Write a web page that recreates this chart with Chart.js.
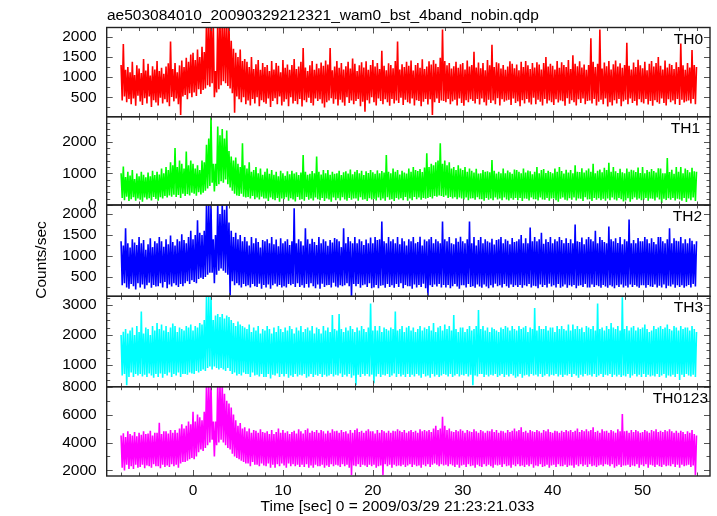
<!DOCTYPE html>
<html><head><meta charset="utf-8">
<script src="https://cdn.jsdelivr.net/npm/chart.js@4/dist/chart.umd.min.js"></script>
<style>html,body{margin:0;padding:0;background:#fff;}canvas{display:block;}</style>
</head><body>
<canvas id="c" width="717" height="516"></canvas>
<script>
const TITLE = "ae503084010_20090329212321_wam0_bst_4band_nobin.qdp";
const X_TITLE = "Time [sec] 0 = 2009/03/29 21:23:21.033";
const Y_TITLE = "Counts/sec";
const BAND_LABELS = ["TH0", "TH1", "TH2", "TH3", "TH0123"];
const BIN_START = -8, BIN_WIDTH = 0.125;   // one row below = 1 s
const X_TICKS = [0, 10, 20, 30, 40, 50];
const Y_TICKS = [
  [500, 1000, 1500, 2000],
  [0, 1000, 2000],
  [500, 1000, 1500, 2000],
  [1000, 2000, 3000],
  [2000, 4000, 6000, 8000]
];

const TH0 = [
1300,420,1820,520,1180,380,1250,460,
1120,330,1380,470,1050,290,1290,540,
1210,400,1100,310,1450,480,1160,350,
1330,520,1040,260,1270,430,1190,370,
1400,300,1150,490,1230,350,1080,450,
1260,380,1340,280,1880,510,1200,400,
1350,470,1120,330,1290,60,1410,520,
1250,560,1480,450,1380,600,1560,500,
1600,620,1420,530,1680,700,1500,580,
1750,680,1620,720,2400,800,2400,760,
2400,850,2400,500,1150,620,2400,700,
2400,800,2400,900,2400,850,2400,780,
2350,720,1900,600,1700,120,1600,520,
1500,450,1680,380,1400,500,1450,330,
1380,420,1250,300,1500,460,1200,350,
1320,500,1420,280,1180,430,1350,380,
1250,340,1300,470,1150,260,1400,410,
1190,480,1350,330,1280,520,1120,300,
1420,390,1230,450,1310,280,1180,500,
1300,350,1450,410,1200,330,1260,460,
1380,270,1720,430,1240,380,1150,490,
1290,360,1400,300,1180,470,1330,410,
1220,450,1360,350,1280,250,1410,380,
1310,420,1720,480,1170,340,1260,450,
1400,300,1230,440,1350,370,1190,290,
1270,500,1380,360,1210,420,1460,330,
1330,410,1150,460,1290,280,1370,390,
1240,140,1390,430,1180,350,1300,500,
1420,380,1260,300,1350,470,1200,410,
1650,330,1280,450,1170,380,1340,290,
1300,460,1220,350,1400,420,1880,360,
1190,490,1320,310,1250,440,1380,380,
1280,350,1410,470,1160,300,1300,430,
1350,410,1230,280,1440,390,1200,460,
1260,320,1390,450,1310,60,1420,380,
1330,470,1250,360,1480,420,2180,410,
1400,380,1290,460,1350,330,1210,400,
1270,440,1380,300,1230,470,1320,360,
1350,290,1190,430,1410,380,1260,450,
1300,410,1630,350,1240,460,1360,320,
1220,470,1350,380,1170,300,1420,440,
1290,360,1800,420,1250,330,1370,480,
1340,300,1210,450,1300,390,1180,420,
1260,440,1390,310,1330,470,1220,360,
1310,400,1170,280,1380,430,1250,350,
1400,460,1290,370,1200,320,1350,490,
1240,330,1370,440,1310,390,1190,300,
1350,460,1500,350,1260,420,1330,380,
1280,310,1190,450,1400,370,1230,420,
1370,400,1300,290,1250,480,1420,340,
1200,430,1540,380,1330,300,1270,450,
1390,360,1240,470,1310,330,1180,410,
1300,420,1960,350,1380,460,1250,300,
1330,390,2180,440,1210,330,1360,470,
1270,270,1400,380,1190,300,1320,430,
1410,350,1260,460,1340,280,1230,400,
1300,440,1850,330,1280,470,1190,360,
1360,410,1250,300,1430,450,1290,380,
1220,350,1380,460,1170,320,1330,410,
1400,290,1260,430,1350,380,1500,340,
1280,470,1190,360,1410,300,1240,450,
1330,380,1300,420,1200,330,1370,460,
1250,310,1830,440,1290,370,1180,400,
1350,420,1240,350,1670,460,1300,330,
1250];

const TH1 = [
1000,220,1210,150,880,260,1050,120,
930,180,1100,240,820,130,990,200,
900,160,1050,100,950,230,870,170,
1020,210,900,140,1080,250,940,190,
1050,130,960,240,1150,200,1000,280,
1200,230,1100,300,1350,260,1250,320,
1800,250,1200,310,1400,220,1300,350,
1150,280,1690,340,1250,300,1400,380,
1300,350,1150,290,1250,400,1100,330,
1400,380,1350,450,1900,520,2100,600,
2790,700,1300,420,1300,600,2480,650,
2200,750,2400,700,2100,800,2350,650,
1700,550,1530,450,1400,350,1500,300,
1300,280,1200,350,1950,260,1250,230,
1150,250,1350,200,1050,280,1100,180,
1200,230,1000,170,1150,260,950,200,
1050,200,1150,120,980,230,1100,180,
950,150,1050,220,900,100,1080,200,
1000,180,920,240,1060,130,970,210,
1080,170,990,110,1030,250,940,160,
1020,180,1580,130,1050,250,950,160,
980,200,1070,140,1000,230,1530,180,
1050,150,960,220,1100,120,1000,200,
1100,170,950,100,1050,230,980,150,
1000,210,1080,140,940,240,1030,170,
1060,130,990,220,1120,160,970,200,
1050,200,1100,130,1000,240,1080,160,
940,180,1060,120,1010,210,1100,170,
1030,190,980,140,1090,230,1000,150,
1070,200,1020,130,1580,240,1050,160,
1000,180,1150,120,1050,220,1100,170,
960,210,1080,150,1020,250,990,130,
1150,200,1050,150,1200,250,1100,180,
1070,230,1130,160,1040,220,1180,190,
1630,220,1200,250,1300,200,1250,280,
1350,260,1400,300,1950,280,1300,250,
1400,300,1250,220,1350,250,1150,200,
1200,240,1100,180,1250,230,1150,200,
1100,170,1200,230,1050,150,1150,200,
1080,210,1020,160,1140,240,990,180,
1000,180,1100,130,1050,220,1060,160,
1030,200,1420,150,1080,230,990,170,
1050,200,1000,150,1150,230,1000,170,
1090,140,1030,210,980,160,1120,220,
1100,150,1050,220,1000,120,1150,200,
1020,190,1090,140,1060,230,970,180,
1050,180,1200,140,1000,230,1100,170,
1130,160,1010,220,1080,130,1040,200,
1000,200,1150,150,1050,100,1200,190,
1070,230,990,160,1110,140,1020,210,
1100,160,1000,230,1250,140,1050,200,
1040,190,1160,120,1020,240,1090,170,
1150,180,1050,120,1300,220,1000,160,
1080,210,1120,150,1030,190,1170,130,
1100,200,1330,150,1050,230,1200,170,
1060,140,1010,220,1140,180,1030,110,
1000,140,1150,210,1050,100,1110,180,
1090,230,1040,160,1180,200,1010,150,
1200,160,1000,220,1100,130,1050,200,
1130,190,1070,140,1020,230,1160,170,
1150,60,1000,190,1000,150,1480,210,
1040,160,1110,220,980,140,1200,190,
1050,170,1200,130,1000,220,1150,90,
1100,200,1030,150,1170,230,1060,120,
1050];

const TH2 = [
1350,300,1250,350,1660,250,1300,220,
1200,330,1400,280,1320,200,1260,350,
1450,250,1300,320,1380,220,1150,300,
1280,360,1420,240,1210,310,1350,270,
1300,280,1450,350,1350,250,1220,380,
1400,230,1280,320,1490,270,1330,350,
1250,300,1400,260,1350,330,1520,280,
1380,350,1300,400,1450,330,1600,420,
1400,380,1500,350,1850,450,1550,480,
1500,450,1600,500,2250,550,2250,600,
2250,600,1400,350,1500,550,2250,650,
2000,700,2250,650,2100,600,2250,550,
1800,60,1600,400,1450,300,1550,350,
1400,300,1500,250,1350,330,1450,280,
1350,300,1250,250,1450,330,1300,280,
1420,260,1330,340,1200,220,1380,310,
1350,250,1400,320,1300,220,1450,300,
1280,340,1390,270,1230,310,1420,250,
1300,280,1350,250,1400,330,1260,300,
1350,330,2140,260,1300,350,1400,260,
1350,300,1250,240,1660,330,1400,250,
1290,350,1410,280,1330,230,1260,320,
1450,220,1300,340,1400,260,1350,300,
1240,310,1380,250,1320,360,1430,270,
1400,250,1350,300,1210,280,1660,300,
1300,350,1450,280,1350,20,1300,330,
1450,280,1300,330,1400,240,1350,300,
1260,320,1390,260,1300,350,1440,230,
1300,250,1450,310,1380,230,1400,290,
1820,300,1350,240,1300,330,1450,260,
1350,300,1400,240,1300,330,1450,260,
1280,350,1420,230,1350,310,1250,280,
1400,280,1350,220,1450,320,1300,250,
1330,310,1460,260,1250,340,1390,230,
1350,20,1400,300,1450,260,1300,320,
1400,270,1350,330,1300,250,1820,310,
1400,250,1350,310,1450,230,1300,280,
1280,330,1420,270,1340,220,1460,300,
1350,300,1300,250,1400,330,1820,260,
1300,280,1450,240,1250,320,1380,270,
1450,240,1300,320,1400,270,1350,230,
1320,300,1410,250,1270,340,1380,280,
1400,300,1450,250,1300,330,1400,280,
1360,240,1280,320,1430,260,1330,300,
1350,260,1400,310,1500,240,1300,300,
1420,280,1300,330,1680,250,1350,290,
1450,280,1350,230,1400,320,1550,260,
1290,310,1400,250,1330,340,1450,270,
1300,300,1400,250,1350,330,1450,240,
1380,270,1300,320,1420,240,1310,300,
1400,270,1300,310,1750,230,1350,290,
1330,300,1440,260,1280,330,1400,250,
1450,250,1400,320,1350,260,1600,300,
1300,280,1450,240,1380,310,1330,270,
1300,240,1700,300,1400,270,1350,230,
1420,300,1310,260,1450,320,1280,250,
1400,290,1350,250,1870,320,1300,260,
1380,310,1300,270,1430,240,1350,300,
1350,300,1450,240,1400,310,1300,270,
1420,260,1330,320,1280,250,1450,290,
1450,250,1350,320,1300,230,1400,290,
1660,270,1300,320,1420,240,1360,300,
1350,260,1450,300,1300,240,1400,280,
1300,310,1420,250,1360,330,1280,270,
1350];

const TH3 = [
2000,650,2110,700,2200,330,2050,600,
2150,750,2250,600,2000,700,2300,650,
2100,700,2780,620,2050,680,2250,600,
2200,720,2000,650,2300,580,2150,700,
2400,600,2200,720,2350,580,2150,700,
2300,650,2100,750,2250,600,2380,700,
2300,650,2100,750,2250,600,2200,700,
2150,700,2300,680,2250,750,2350,720,
2150,700,2300,800,2250,750,2400,800,
2350,850,2500,800,3290,900,3290,950,
3290,850,2500,950,2650,900,2700,850,
2600,900,2700,850,2550,800,2650,900,
2600,800,2500,700,2400,750,2300,650,
2450,700,2350,650,2300,750,2250,700,
2200,700,2350,600,2100,750,2250,650,
2150,680,2300,620,2050,700,2200,600,
2150,600,2300,700,2200,550,2050,680,
2250,650,2100,720,2300,600,2200,700,
2100,620,2250,700,2150,580,2300,650,
2200,600,2050,700,2250,620,2150,680,
2300,650,2100,700,2200,580,2250,620,
2150,700,2300,600,2050,680,2250,640,
2200,700,2050,600,2300,680,2150,620,
2250,650,2100,700,2670,620,2200,680,
2150,650,2700,720,2200,600,2100,680,
2250,620,2150,700,2300,580,2200,650,
2100,330,2250,680,2150,600,2300,700,
2200,640,2100,700,2250,620,3050,680,
2150,390,2300,620,2150,700,2300,600,
2100,680,2250,650,2200,700,2150,600,
2250,650,2200,720,2780,600,2150,700,
2200,620,2300,680,2100,600,2250,700,
2300,600,2150,680,2250,620,2100,700,
2200,650,2300,580,2150,700,2250,620,
2200,650,2300,580,2150,700,2400,620,
2100,680,2250,600,2300,650,2150,700,
2350,680,2200,620,2300,700,2150,600,
2670,650,2200,700,2100,620,2250,680,
2250,650,2100,700,2200,620,2300,680,
2150,330,2200,650,2300,620,2830,700,
2200,700,2300,600,2150,680,2250,620,
2100,680,2250,650,2200,700,2150,600,
2100,650,2250,700,2200,600,2300,680,
2250,620,2150,700,2300,650,2200,580,
2150,620,2300,700,2200,580,2250,650,
2300,680,2100,620,2250,700,2200,650,
2900,680,2150,620,2300,700,2200,600,
2200,650,2300,700,2150,620,2250,680,
2250,650,2100,700,2300,620,2200,680,
2300,600,2200,680,2150,650,2350,700,
2150,600,2350,700,2200,650,2300,580,
2200,680,2250,620,2100,700,2300,650,
2250,680,2200,620,2300,700,2150,600,
3050,650,2200,700,2250,600,2150,680,
2300,650,2200,700,2400,600,2250,680,
2200,620,2300,680,2150,600,3260,650,
2200,620,2300,700,2150,580,2250,650,
2300,700,2150,620,2250,680,2200,600,
2250,700,2350,600,2200,680,2100,620,
2150,650,2300,620,2200,700,2250,600,
2300,650,2200,700,2250,580,2350,650,
2200,620,2150,680,2300,600,2250,700,
2150,500,2300,680,2200,600,2250,700,
2250,650,2150,620,2300,680,2200,600,
2100];

const TH0123 = [
4500,2200,4660,2000,4400,2400,4800,2100,
4600,2300,4500,2100,4750,2400,4450,2200,
4700,2250,4550,2400,4800,2150,4600,2350,
4650,2300,4850,2200,4500,2450,4700,2300,
4700,2300,5420,2150,4600,2400,4800,2250,
4800,2350,4650,2250,4900,2450,4700,2300,
4900,2400,4700,2200,5000,2500,5300,2600,
5000,2600,5200,2700,5500,2800,5300,2900,
6200,2800,5500,3000,6000,3300,5800,3500,
5600,3400,6200,3600,8200,3800,8200,4000,
8200,4200,5500,3000,5500,3800,8200,4000,
8200,4200,8200,4000,7500,3800,7000,3600,
6800,3500,6500,3200,6000,3000,5600,2900,
5200,2800,5400,2700,5000,2600,5100,2500,
4800,2500,5000,2300,4700,2600,4900,2400,
4850,2400,4700,2300,4950,2500,4750,2350,
4700,2300,4800,2500,4600,2200,4900,2400,
4600,2200,4750,2450,5000,2300,4700,2500,
4900,2350,4700,2200,4800,2500,4600,2300,
4750,2450,4850,2300,4650,2400,4950,2250,
4800,2400,4650,2250,4900,2450,5000,2200,
4700,2350,4850,2200,4750,2400,4900,2300,
4700,2300,4900,2400,4800,2200,4650,2350,
4850,2250,4700,2450,4950,2300,4800,2400,
4850,2350,4700,2250,4900,2450,4750,2300,
4800,2400,4650,2200,4900,1670,4700,2350,
4900,2300,5000,2450,4750,2250,4850,2400,
4700,2350,4850,2250,4950,2400,4800,2300,
4800,2400,4650,2200,4900,2300,4700,2350,
4900,1670,4800,2450,4700,2300,4850,2400,
4700,2200,4850,2400,4800,2300,4950,2350,
4850,2300,4750,2400,4900,2250,4700,2350,
4800,2450,4900,2250,4750,2400,4850,2300,
4700,2350,4950,2200,4800,2400,4900,2300,
4800,2450,4900,2250,4750,2400,5000,2500,
5200,2400,4900,2300,5000,2450,5850,2350,
5200,2400,4900,2300,5000,2450,4800,2350,
4750,2250,4900,2400,4800,2200,4950,2350,
4850,2400,4700,2250,4900,2450,4800,2300,
4750,2350,4950,2200,4800,2400,4700,2300,
4900,2250,4800,2450,4700,2300,4850,2400,
4800,2300,4950,2200,4750,2400,4900,2350,
4700,2400,4850,2250,4800,2450,4700,2300,
4900,2350,4750,2200,4850,2400,5000,2300,
4800,2450,4900,2300,5100,2350,4750,2250,
4850,2400,4700,2300,4900,2450,4800,2200,
4750,2350,4900,2300,4800,2450,4700,2250,
4900,2300,4800,2400,4950,2200,4750,2350,
4700,2400,4850,2250,4800,2450,4700,2300,
4850,2300,4750,2400,4900,2250,4800,2350,
4900,2350,4750,2200,4850,2400,5000,2300,
4750,2450,4900,2300,4800,2400,4950,2250,
4800,2450,4900,2300,5100,2350,4750,2250,
4850,2350,4700,2400,4950,2300,4800,2450,
4850,2400,4700,2300,4900,2450,4800,2200,
4700,2300,4950,2400,4800,2250,6040,2350,
4800,2350,4850,2400,4700,2250,4900,2350,
4750,2300,4900,2450,4800,2200,4700,2400,
4750,2300,4900,2450,4800,2200,4700,2400,
4900,2350,4800,2250,4950,2400,4750,2300,
4850,2250,4750,2400,4900,2300,4800,2350,
4950,2300,4800,2450,4700,2250,4850,2400,
4700,2200,4850,2400,4750,2300,4600,2350,
4800,2400,4700,2250,4900,2350,4600,1670,
4500];

const SERIES = [TH0, TH1, TH2, TH3, TH0123];
const Y_MIN = [20, -5, 38, 277, 1600];
const Y_MAX = [2228, 2790, 2215, 3290, 8000];
const Y_MINOR = [250, 200, 250, 250, 1000];
const X_MIN = -9.6, X_MAX = 57.5, X_STEP = 10, X_MINOR = 2;

// styles / layout
const COLORS = ['#ff0000', '#00ff00', '#0000ff', '#00ffff', '#ff00ff'];
const PANEL_WEIGHTS = [89.2, 88.3, 91.3, 90.4, 89.3];
const LABEL_RIGHT = [703, 700, 702, 703, 708];
const FAMILY = "'Liberation Sans', Arial, Helvetica, sans-serif";
const FONT = "15.5px " + FAMILY;
Chart.defaults.font.family = FAMILY;
Chart.defaults.font.size = 15.5;
Chart.defaults.color = '#000';

const TIMES = TH0.map((_, i) => BIN_START + i * BIN_WIDTH);

const datasets = SERIES.map((s, k) => ({
  label: BAND_LABELS[k],
  data: s.map((v, i) => ({x: TIMES[i], y: v})),
  xAxisID: 'x',
  yAxisID: 'y' + k,
  borderColor: COLORS[k],
  borderWidth: 1.6,
  borderJoinStyle: 'bevel',
  pointRadius: 0,
  tension: 0,
  fill: false
}));

const scales = {
  x: {
    type: 'linear', position: 'bottom', min: X_MIN, max: X_MAX,
    afterBuildTicks: sc => { sc.ticks = X_TICKS.map(v => ({value: v})); },
    ticks: {autoSkip: false, maxRotation: 0, padding: 5, callback: v => String(v)},
    grid: {display: false, drawTicks: false},
    border: {display: false},
    afterFit: s => { s.height = 40; }
  }
};
SERIES.forEach((s, k) => {
  scales['y' + k] = {
    type: 'linear', position: 'left', stack: 'panels', stackWeight: PANEL_WEIGHTS[k],
    weight: 10 - k, offset: false,
    min: Y_MIN[k], max: Y_MAX[k],
    afterBuildTicks: sc => { sc.ticks = Y_TICKS[k].map(v => ({value: v})); },
    ticks: {autoSkip: false, padding: 10, callback: v => String(v)},
    grid: {display: false, drawTicks: false},
    border: {display: false},
    afterFit: sc => { sc.width = 106.7; }
  };
});

const qdpPlugin = {
  id: 'qdp',
  beforeDatasetDraw(chart, args) {
    const ys = chart.scales[args.meta.yAxisID];
    const ca = chart.chartArea, ctx = chart.ctx;
    ctx.save();
    ctx.beginPath();
    ctx.rect(ca.left, ys.top, ca.right - ca.left, ys.bottom - ys.top);
    ctx.clip();
  },
  afterDatasetDraw(chart) { chart.ctx.restore(); },
  afterDraw(chart) {
    const ctx = chart.ctx, ca = chart.chartArea, xs = chart.scales.x;
    ctx.save();
    SERIES.forEach((s, k) => {
      const ys = chart.scales['y' + k];
      const top = ys.top, bot = ys.bottom, L = ca.left, R = ca.right;
      ctx.strokeStyle = '#555';
      ctx.lineWidth = 1;
      ctx.beginPath();
      for (let v = Math.ceil(X_MIN / X_MINOR) * X_MINOR; v <= X_MAX; v += X_MINOR) {
        const px = Math.round(xs.getPixelForValue(v)) + 0.5;
        const len = (Math.abs(v % X_STEP) < 1e-9) ? 6 : 3.5;
        ctx.moveTo(px, top); ctx.lineTo(px, top + len);
        ctx.moveTo(px, bot); ctx.lineTo(px, bot - len);
      }
      for (let v = Math.ceil(Y_MIN[k] / Y_MINOR[k]) * Y_MINOR[k]; v <= Y_MAX[k]; v += Y_MINOR[k]) {
        const py = Math.round(ys.getPixelForValue(v)) + 0.5;
        const len = Y_TICKS[k].includes(v) ? 6 : 3.5;
        ctx.moveTo(L, py); ctx.lineTo(L + len, py);
        ctx.moveTo(R, py); ctx.lineTo(R - len, py);
      }
      ctx.stroke();
      ctx.strokeStyle = '#222';
      ctx.lineWidth = 1.4;
      ctx.strokeRect(L, top, R - L, bot - top);
      ctx.fillStyle = '#000';
      ctx.font = FONT;
      ctx.textAlign = 'right';
      ctx.textBaseline = 'alphabetic';
      ctx.fillText(BAND_LABELS[k], LABEL_RIGHT[k], top + 16);
    });
    ctx.fillStyle = '#000';
    ctx.font = FONT;
    ctx.textAlign = 'left';
    ctx.textBaseline = 'alphabetic';
    ctx.fillText(TITLE, 107, 20);
    ctx.textAlign = 'center';
    ctx.fillText(X_TITLE, 397.5, 510.5);
    ctx.translate(42, 260);
    ctx.rotate(-Math.PI / 2);
    ctx.textBaseline = 'middle';
    ctx.fillText(Y_TITLE, 0, 0);
    ctx.restore();
  }
};

new Chart(document.getElementById('c'), {
  type: 'line',
  data: {datasets},
  options: {
    responsive: false, animation: false, devicePixelRatio: 1,
    layout: {padding: {top: 27.5, right: 7, left: 0, bottom: 0}},
    plugins: {legend: {display: false}, title: {display: false}, tooltip: {enabled: false}},
    events: [],
    scales
  },
  plugins: [qdpPlugin]
});
</script>
</body></html>
